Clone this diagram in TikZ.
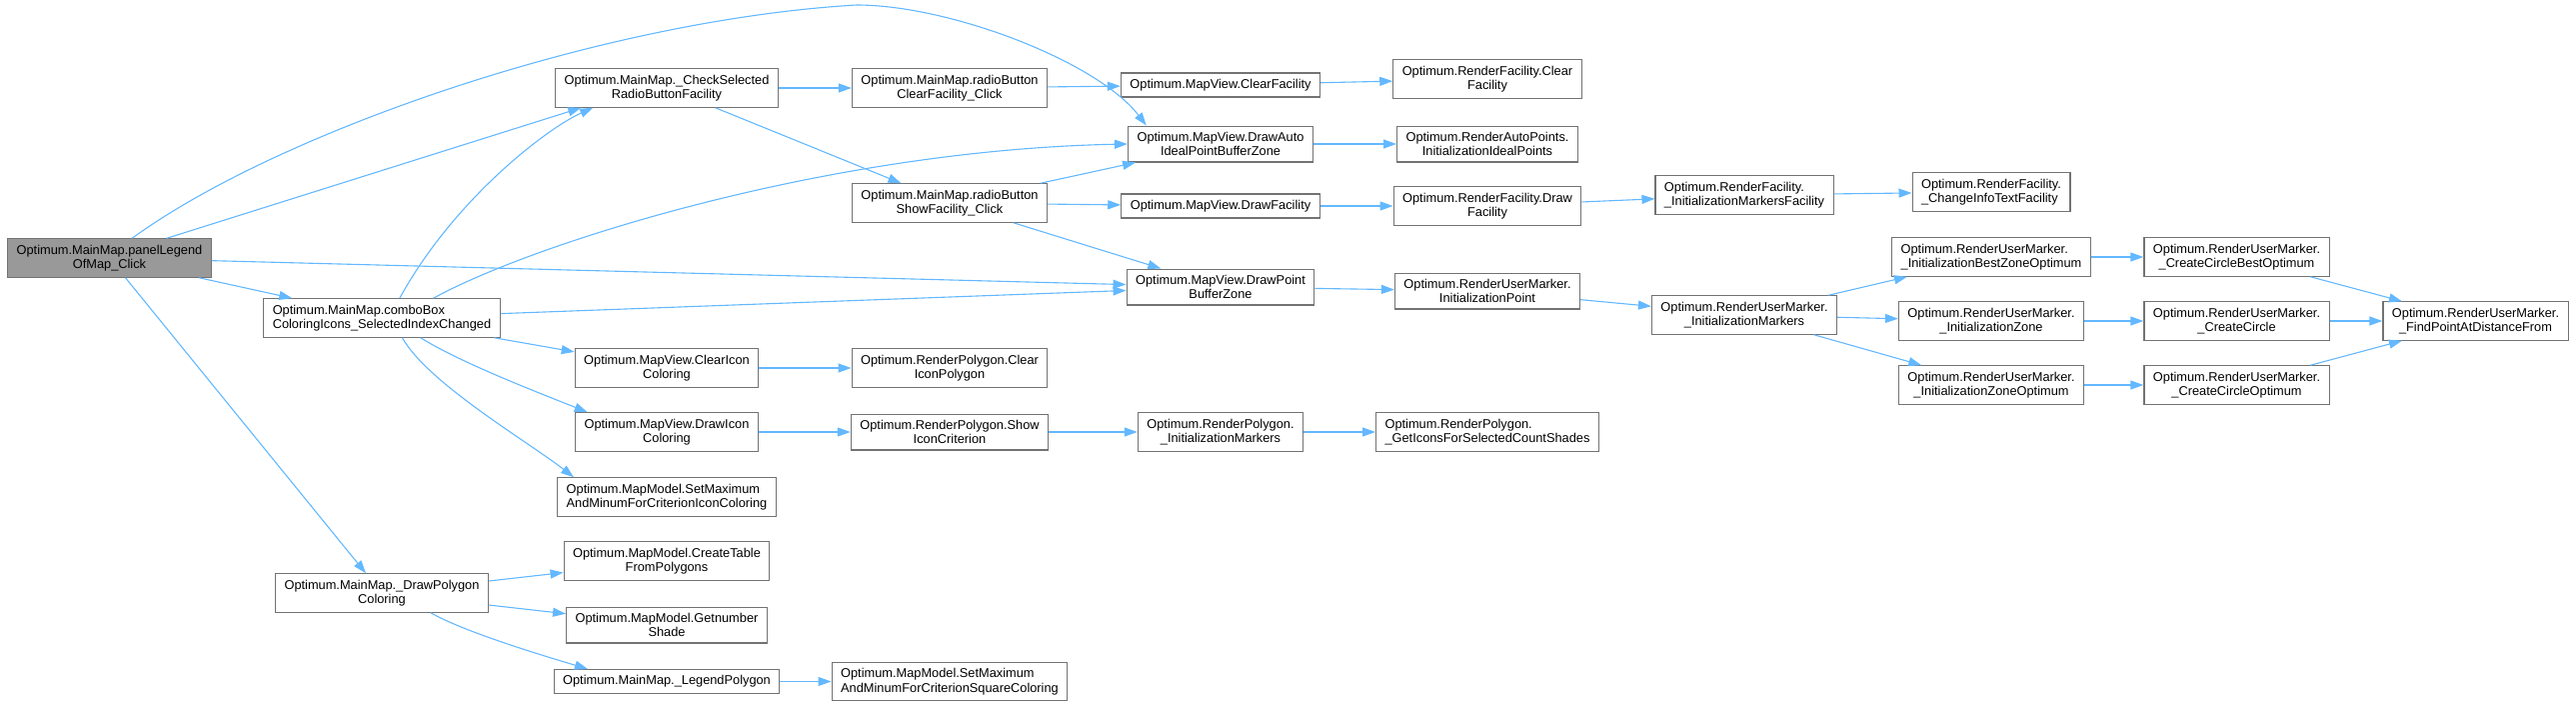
\documentclass[tikz,border=0pt]{standalone}
\usepackage{fontspec}
\setmainfont{Liberation Sans}
\usepackage{xcolor}
\usepackage{tikz}
\usetikzlibrary{arrows.meta, positioning}

\definecolor{callblue}{HTML}{63B8FF}

\begin{document}
\begin{tikzpicture}[
        x=1pt, y=-1pt,
        on grid,
        func/.style={
            rectangle,
            draw=black!55,
            fill=white,
            line width=1.1pt,
            inner xsep=9pt,
            inner ysep=6pt,
            align=center,
            font=\fontsize{12.8}{14.5}\selectfont
        },
        funcleft/.style={func, align=left},
        root/.style={func, fill=black!40},
        call/.style={-{Triangle[length=13pt, width=9pt]}, line width=1.1pt, draw=callblue}
    ]

    \useasboundingbox (0,0) rectangle (2577,707);

    \node (panel) [root] at (109.5,258) {Optimum.MainMap.panelLegend\\OfMap\_Click};

    \node (combo) [funcleft, below right=60pt and 272.5pt of panel] {Optimum.MainMap.comboBox\\ColoringIcons\_SelectedIndexChanged};
    \node (poly) [func, below=275pt of combo] {Optimum.MainMap.\_DrawPolygon\\Coloring};

    \node (check) [func, above right=230pt and 285pt of combo] {Optimum.MainMap.\_CheckSelected\\RadioButtonFacility};
    \node (clricon) [func, below right=50pt and 285pt of combo] {Optimum.MapView.ClearIcon\\Coloring};
    \node (drwicon) [func, below=64pt of clricon] {Optimum.MapView.DrawIcon\\Coloring};
    \node (seticon) [funcleft, below=65pt of drwicon] {Optimum.MapModel.SetMaximum\\AndMinumForCriterionIconColoring};
    \node (table) [func, above right=32pt and 285pt of poly] {Optimum.MapModel.CreateTable\\FromPolygons};
    \node (shade) [func, below right=32pt and 285pt of poly] {Optimum.MapModel.Getnumber\\Shade};
    \node (legend) [func, below right=88.5pt and 285pt of poly] {Optimum.MainMap.\_LegendPolygon};

    \node (rbclear) [func, right=283pt of check] {Optimum.MainMap.radioButton\\ClearFacility\_Click};
    \node (rbshow) [func, below=115pt of rbclear] {Optimum.MainMap.radioButton\\ShowFacility\_Click};
    \node (clrpoly) [func, right=283pt of clricon] {Optimum.RenderPolygon.Clear\\IconPolygon};
    \node (showcrit) [func, right=283pt of drwicon] {Optimum.RenderPolygon.Show\\IconCriterion};
    \node (setsquare) [funcleft, right=283pt of legend] {Optimum.MapModel.SetMaximum\\AndMinumForCriterionSquareColoring};

    \node (clrfac) [func, above right=3pt and 271pt of rbclear] {Optimum.MapView.ClearFacility};
    \node (drwauto) [func, above right=59pt and 271pt of rbshow] {Optimum.MapView.DrawAuto\\IdealPointBufferZone};
    \node (drwfac) [func, below right=3pt and 271pt of rbshow] {Optimum.MapView.DrawFacility};
    \node (drwpoint) [func, below right=84pt and 271pt of rbshow] {Optimum.MapView.DrawPoint\\BufferZone};
    \node (polymark) [func, right=271pt of showcrit] {Optimum.RenderPolygon.\\\_InitializationMarkers};

    \node (rfclear) [func, above right=6pt and 267pt of clrfac] {Optimum.RenderFacility.Clear\\Facility};
    \node (autoinit) [func, right=267pt of drwauto] {Optimum.RenderAutoPoints.\\InitializationIdealPoints};
    \node (rfdraw) [func, right=267pt of drwfac] {Optimum.RenderFacility.Draw\\Facility};
    \node (initpoint) [func, below right=4pt and 267pt of drwpoint] {Optimum.RenderUserMarker.\\InitializationPoint};
    \node (getshades) [funcleft, right=267pt of polymark] {Optimum.RenderPolygon.\\\_GetIconsForSelectedCountShades};

    \node (facmark) [funcleft, above right=11pt and 257pt of rfdraw] {Optimum.RenderFacility.\\\_InitializationMarkersFacility};
    \node (usermark) [func, below right=24pt and 257pt of initpoint] {Optimum.RenderUserMarker.\\\_InitializationMarkers};

    \node (infotext) [funcleft, above right=3pt and 247pt of facmark] {Optimum.RenderFacility.\\\_ChangeInfoTextFacility};
    \node (zone) [func, below right=6pt and 247pt of usermark] {Optimum.RenderUserMarker.\\\_InitializationZone};
    \node (bestzone) [funcleft, above=64pt of zone] {Optimum.RenderUserMarker.\\\_InitializationBestZoneOptimum};
    \node (zoneopt) [func, below=64pt of zone] {Optimum.RenderUserMarker.\\\_InitializationZoneOptimum};

    \node (circbest) [func, right=245.5pt of bestzone] {Optimum.RenderUserMarker.\\\_CreateCircleBestOptimum};
    \node (circle) [func, right=245.5pt of zone] {Optimum.RenderUserMarker.\\\_CreateCircle};
    \node (circopt) [func, right=245.5pt of zoneopt] {Optimum.RenderUserMarker.\\\_CreateCircleOptimum};

    \node (findpt) [func, right=239pt of circle] {Optimum.RenderUserMarker.\\\_FindPointAtDistanceFrom};

    % calls out of the clicked panel
    \draw [call] (panel.41) .. controls +(144,-105) and +(-257,15) .. (857,5)
        .. controls +(93,0) and +(-49,-64) .. (drwauto.166);
    \draw [call] (panel.19) -- (check.193);
    \draw [call] (panel) -- (drwpoint);
    \draw [call] (panel) -- (combo);
    \draw [call] (panel) -- (poly);

    \draw [call] (check) -- (rbclear);
    \draw [call] (check) -- (rbshow);

    \draw [call] (combo.48) .. controls +(55,-100) and +(-45,20) .. (check.195);
    \draw [call] (combo.21) .. controls +(100,-55) and +(-300,6) .. (drwauto.west);
    \draw [call] (combo) -- (drwpoint);
    \draw [call] (combo) -- (clricon);
    \draw [call] (combo.-27) .. controls +(40,25) and +(-50,-20) .. (drwicon.166);
    \draw [call] (combo.-44) .. controls +(25,45) and +(-45,-35) .. (seticon.168);

    \draw [call] (poly) -- (table);
    \draw [call] (poly) -- (shade);
    \draw [call] (poly.-22) .. controls +(35,20) and +(-40,-12) .. (legend.171);
    \draw [call] (legend) -- (setsquare);

    \draw [call] (clricon) -- (clrpoly);
    \draw [call] (drwicon) -- (showcrit);
    \draw [call] (showcrit) -- (polymark);
    \draw [call] (polymark) -- (getshades);

    \draw [call] (rbclear) -- (clrfac);
    \draw [call] (rbshow) -- (drwauto);
    \draw [call] (rbshow) -- (drwfac);
    \draw [call] (rbshow) -- (drwpoint);

    \draw [call] (clrfac) -- (rfclear);
    \draw [call] (drwauto) -- (autoinit);
    \draw [call] (drwfac) -- (rfdraw);
    \draw [call] (drwpoint) -- (initpoint);

    \draw [call] (rfdraw) -- (facmark);
    \draw [call] (initpoint) -- (usermark);
    \draw [call] (facmark) -- (infotext);
    \draw [call] (usermark) -- (bestzone);
    \draw [call] (usermark) -- (zone);
    \draw [call] (usermark) -- (zoneopt);

    \draw [call] (bestzone) -- (circbest);
    \draw [call] (zone) -- (circle);
    \draw [call] (zoneopt) -- (circopt);
    \draw [call] (circbest) -- (findpt);
    \draw [call] (circle) -- (findpt);
    \draw [call] (circopt) -- (findpt);

\end{tikzpicture}
\end{document}
